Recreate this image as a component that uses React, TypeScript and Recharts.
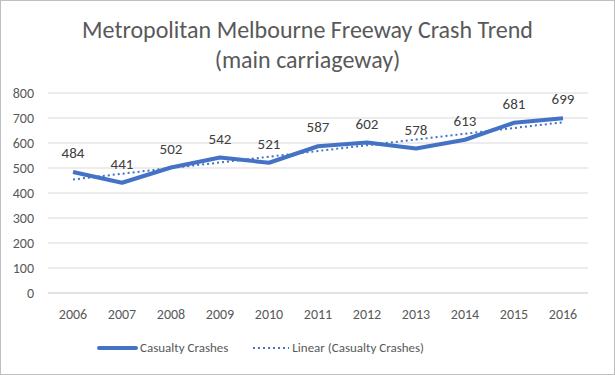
import React from "react";
import {
  LineChart,
  Line,
  XAxis,
  YAxis,
  CartesianGrid,
  Legend,
  LabelList,
} from "recharts";

const years = ["2006", "2007", "2008", "2009", "2010", "2011", "2012", "2013", "2014", "2015", "2016"];
const casualtyCrashes = [484, 441, 502, 542, 521, 587, 602, 578, 613, 681, 699];
// linear trend
const linearTrend = [454, 477, 500, 522, 545, 568, 591, 614, 637, 660, 683];
const yTicks = [0, 100, 200, 300, 400, 500, 600, 700, 800];

const data = years.map((year, i) => ({
  year,
  crashes: casualtyCrashes[i],
  trend: linearTrend[i],
}));

const FONT = "Carlito, Calibri, 'Open Sans', 'Liberation Sans', sans-serif";
const BLUE = "#4472C4";

function LegendContent() {
  return (
    <div
      style={{
        display: "flex",
        justifyContent: "flex-start",
        alignItems: "center",
        paddingLeft: 96,
        fontFamily: FONT,
        fontSize: 13,
        color: "#595959",
      }}
    >
      <svg width={41} height={10} style={{ marginRight: 2 }}>
        <line x1={2} y1={5} x2={39} y2={5} stroke={BLUE} strokeWidth={4} strokeLinecap="round" />
      </svg>
      <span style={{ marginRight: 24 }}>Casualty Crashes</span>
      <svg width={38} height={10} style={{ marginRight: 2 }}>
        <line x1={1} y1={5} x2={37} y2={5} stroke={BLUE} strokeWidth={2} strokeDasharray="2 3" />
      </svg>
      <span>Linear (Casualty Crashes)</span>
    </div>
  );
}

export default function App() {
  return (
    <div
      style={{
        position: "absolute",
        left: 0,
        top: 0,
        width: 613,
        height: 373,
        border: "1px solid #bfbfbf",
        background: "#fff",
        fontFamily: FONT,
      }}
    >
      <div
        style={{
          position: "absolute",
          top: 14,
          left: 0,
          width: 613,
          textAlign: "center",
          fontSize: 24,
          lineHeight: "30px",
          color: "#595959",
        }}
      >
        Metropolitan Melbourne Freeway Crash Trend
        <br />
        (main carriageway)
      </div>
      <LineChart
        width={613}
        height={373}
        data={data}
        margin={{ top: 92, right: 26, left: 0, bottom: 11 }}
      >
        <CartesianGrid vertical={false} stroke="#d9d9d9" />
        <XAxis
          dataKey="year"
          tickLine={false}
          axisLine={{ stroke: "#d9d9d9" }}
          tick={{ fill: "#595959", fontSize: 14, fontFamily: FONT }}
          tickMargin={10}
          height={30}
          padding={{ left: 25, right: 25 }}
        />
        <YAxis
          width={47}
          domain={[0, 800]}
          ticks={yTicks}
          tickLine={false}
          axisLine={false}
          tick={{ fill: "#595959", fontSize: 14, fontFamily: FONT }}
          tickMargin={8}
        />
        <Line
          dataKey="trend"
          stroke={BLUE}
          strokeWidth={2}
          strokeDasharray="2 3"
          dot={false}
          isAnimationActive={false}
        />
        <Line
          dataKey="crashes"
          stroke={BLUE}
          strokeWidth={4}
          dot={false}
          strokeLinejoin="round"
          isAnimationActive={false}
        >
          <LabelList
            dataKey="crashes"
            position="top"
            offset={14}
            style={{ fill: "#404040", fontSize: 15, fontFamily: FONT }}
          />
        </Line>
        <Legend
          verticalAlign="bottom"
          height={40}
          wrapperStyle={{ top: 339, bottom: "auto", left: 0, width: 613 }}
          content={<LegendContent />}
        />
      </LineChart>
    </div>
  );
}
